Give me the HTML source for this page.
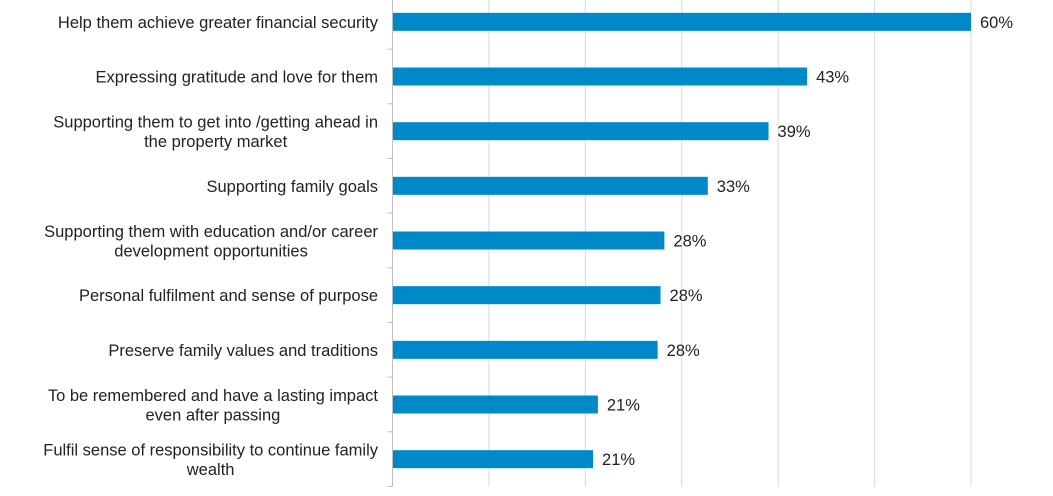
<!DOCTYPE html>
<html><head><meta charset="utf-8"><style>
html,body{margin:0;padding:0;background:#fff;}
svg{display:block;font-family:"Liberation Sans",Arial,sans-serif;}
</style></head><body>
<svg id="chart" width="1053" height="496"></svg>
<script>
const categories = [
 ["Help them achieve greater financial security"],
 ["Expressing gratitude and love for them"],
 ["Supporting them to get into /getting ahead in","the property market"],
 ["Supporting family goals"],
 ["Supporting them with education and/or career","development opportunities"],
 ["Personal fulfilment and sense of purpose"],
 ["Preserve family values and traditions"],
 ["To be remembered and have a lasting impact","even after passing"],
 ["Fulfil sense of responsibility to continue family","wealth"]
];
const values = [60, 43, 39, 32.7, 28.2, 27.8, 27.5, 21.3, 20.8];
const valueLabels = ["60%","43%","39%","33%","28%","28%","28%","21%","21%"];
const gridTicks = [0,10,20,30,40,50,60];

const svgEl = document.getElementById('chart');
const NS = 'http://www.w3.org/2000/svg';
const x0 = 392.5, x1 = 971, plotTop = -5.5, plotBottom = 486.5, maxV = 60;
const xs = v => x0 + (x1 - x0) * v / maxV;
const band = (plotBottom - plotTop) / categories.length;
const yc = i => plotTop + band * (i + 0.5);
function mk(tag, attrs){const e=document.createElementNS(NS,tag);for(const k in attrs)e.setAttribute(k,attrs[k]);svgEl.appendChild(e);return e;}

gridTicks.forEach((t)=>{
  if(t===0) return;
  const g = mk('line',{x1:xs(t),x2:xs(t),y1:0,y2:plotBottom,stroke:'#d9d9d9','stroke-width':1});
  
  
});
const ax = mk('line',{x1:x0,x2:x0,y1:0,y2:plotBottom,stroke:'#bfbfbf','stroke-width':1});


for(let i=1;i<=categories.length;i++){
  const tk = mk('line',{x1:x0-5,x2:x0,y1:plotTop+band*i,y2:plotTop+band*i,stroke:'#bfbfbf','stroke-width':1});
  
  
}
categories.forEach((lines,i)=>{
  const c = yc(i);
  const r = mk('rect',{x:x0+0.5,y:c-9,width:xs(values[i])-x0-0.5,height:18,fill:'#0089c9'});
  
  
  const vl = mk('text',{x:xs(values[i])+9,y:c+6,'font-size':16.5,fill:'#222'});
  vl.textContent = valueLabels[i];
  
  
  const t = mk('text',{x:378,'text-anchor':'middle','font-size':16.5,fill:'#222'});
  
  
  const startY = c + 6 - (lines.length-1)*9.5;
  const spans = lines.map((ln,j)=>{
    const s = document.createElementNS(NS,'tspan');
    s.setAttribute('y',startY + j*19.5);
    s.textContent = ln; t.appendChild(s);
    return s;
  });
  let maxW = 0;
  spans.forEach(s=>{ maxW = Math.max(maxW, s.getComputedTextLength()); });
  spans.forEach(s=>{ s.setAttribute('x', 378 - maxW/2); });
});
</script>
</body></html>
